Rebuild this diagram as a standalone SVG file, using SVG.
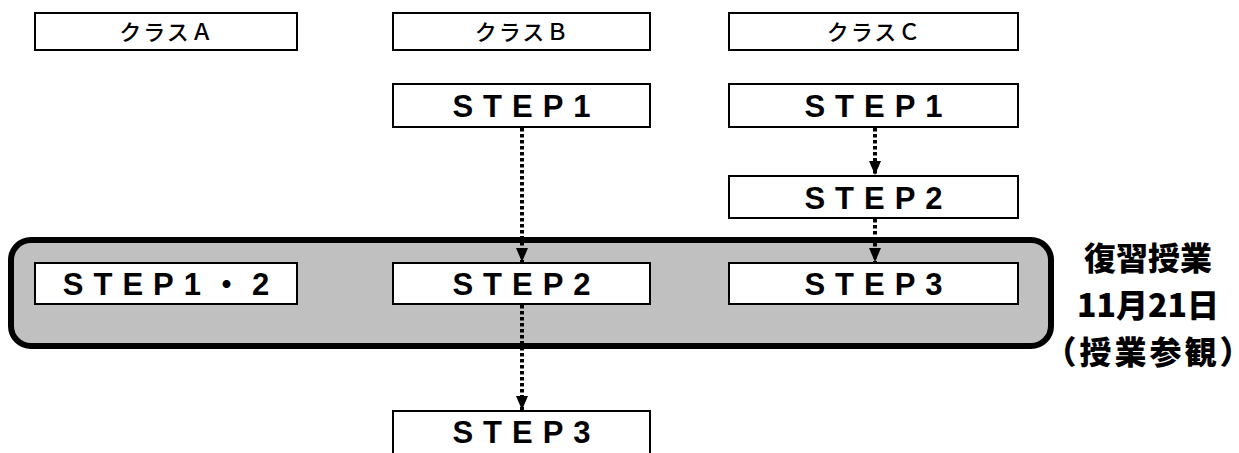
<svg xmlns="http://www.w3.org/2000/svg" width="1239" height="453" viewBox="0 0 1239 453">
<defs>
<style>
.box{fill:#fff;stroke:#000;stroke-width:2}
.cls{font-family:"Noto Sans CJK JP","Noto Sans",sans-serif;font-size:22px;font-weight:500;fill:#000;text-anchor:middle;letter-spacing:2px}
.step{font-family:"Liberation Sans","Noto Sans CJK JP",sans-serif;font-weight:bold;font-size:31px;fill:#000;text-anchor:middle;letter-spacing:10px}
.side{font-family:"Noto Sans CJK JP",sans-serif;font-weight:900;font-size:32px;fill:#000;text-anchor:middle}
.paren{font-feature-settings:"halt" 1;letter-spacing:3px}
.dot{stroke:#000;stroke-width:4;stroke-dasharray:3.5 2.5;fill:none}
</style>
<marker id="ah" markerWidth="14" markerHeight="12" refX="14" refY="6" orient="auto" markerUnits="userSpaceOnUse" viewBox="0 0 14 12">
<path d="M0,0 L14,6 L0,12 Z" fill="#000"/>
</marker>
</defs>
<g id="band">
<rect x="11" y="240" width="1040" height="106" rx="20" ry="20" fill="#c0c0c0" stroke="#000" stroke-width="6"/>
</g>
<g id="classA"><rect class="box" x="35" y="13" width="262" height="37"/><text class="cls" x="167" y="39.5">クラスＡ</text></g>
<g id="classB"><rect class="box" x="393" y="13" width="257" height="37"/><text class="cls" x="522.5" y="39.5">クラスＢ</text></g>
<g id="classC"><rect class="box" x="729" y="13" width="289" height="37"/><text class="cls" x="874.5" y="39.5">クラスＣ</text></g>
<g id="b-step1"><rect class="box" x="393" y="84" width="257" height="43"/><text class="step" x="526.5" y="117">STEP1</text></g>
<g id="c-step1"><rect class="box" x="729" y="84" width="289" height="43"/><text class="step" x="878.5" y="117">STEP1</text></g>
<g id="c-step2"><rect class="box" x="729" y="176" width="289" height="42"/><text class="step" x="878.5" y="208.5">STEP2</text></g>
<g id="a-step12"><rect class="box" x="35" y="263" width="262" height="41"/><text class="step" x="171" y="295">STEP1・2</text></g>
<g id="b-step2"><rect class="box" x="393" y="263" width="257" height="41"/><text class="step" x="526.5" y="295">STEP2</text></g>
<g id="c-step3"><rect class="box" x="729" y="263" width="289" height="41"/><text class="step" x="878.5" y="295">STEP3</text></g>
<g id="b-step3"><rect class="box" x="393" y="411" width="257" height="43"/><text class="step" x="526.5" y="443">STEP3</text></g>
<g id="side-label">
<text class="side" x="1148" y="270">復習授業</text>
<text class="side" x="1148" y="317">11月21日</text>
<text class="side paren" x="1149.5" y="364">（授業参観）</text>
</g>
<g id="connectors">
<line class="dot" x1="522" y1="128" x2="522" y2="262" marker-end="url(#ah)"/>
<line class="dot" x1="875" y1="128" x2="875" y2="175" marker-end="url(#ah)"/>
<line class="dot" x1="875" y1="219" x2="875" y2="262" marker-end="url(#ah)"/>
<line class="dot" x1="522" y1="305" x2="522" y2="410" marker-end="url(#ah)"/>
</g>
</svg>
